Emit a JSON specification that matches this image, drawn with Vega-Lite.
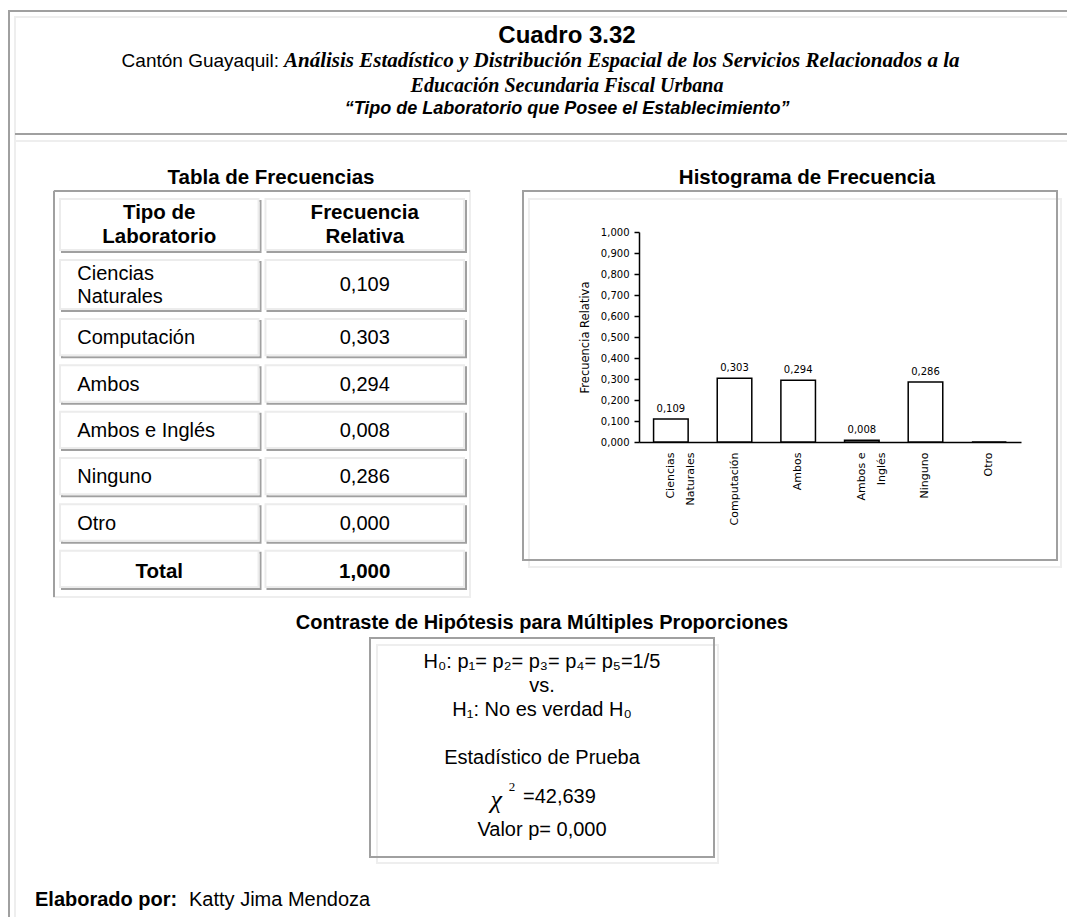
{
  "$schema": "https://vega.github.io/schema/vega-lite/v6.json",
  "width": 1067,
  "height": 917,
  "autosize": {"type": "none"},
  "padding": 0,
  "background": "white",
  "config": {
    "view": {"stroke": null},
    "text": {"font": "Liberation Sans", "color": "black"},
    "locale": {"number": {"decimal": ",", "thousands": ".", "grouping": [3], "currency": ["$", ""]}}
  },
  "datasets": {
    "frecuencias": [
      {"fila": 1, "tipo": "Ciencias Naturales", "frecuencia": 0.109},
      {"fila": 2, "tipo": "Computación", "frecuencia": 0.303},
      {"fila": 3, "tipo": "Ambos", "frecuencia": 0.294},
      {"fila": 4, "tipo": "Ambos e Inglés", "frecuencia": 0.008},
      {"fila": 5, "tipo": "Ninguno", "frecuencia": 0.286},
      {"fila": 6, "tipo": "Otro", "frecuencia": 0.0}
    ],
    "tabla": [
      {"fila": 0, "tipo": "Tipo de\nLaboratorio", "frec": "Frecuencia\nRelativa", "lineas": 2},
      {"fila": 1, "tipo": "Ciencias\nNaturales", "frec": "0,109", "lineas": 2},
      {"fila": 2, "tipo": "Computación", "frec": "0,303", "lineas": 1},
      {"fila": 3, "tipo": "Ambos", "frec": "0,294", "lineas": 1},
      {"fila": 4, "tipo": "Ambos e Inglés", "frec": "0,008", "lineas": 1},
      {"fila": 5, "tipo": "Ninguno", "frec": "0,286", "lineas": 1},
      {"fila": 6, "tipo": "Otro", "frec": "0,000", "lineas": 1},
      {"fila": 7, "tipo": "Total", "frec": "1,000", "lineas": 1}
    ]
  },
  "resolve": {"scale": {"x": "independent", "y": "independent"}},
  "layer": [
    {
      "data": {"values": [{"marco": "página"}]},
      "layer": [
        {
          "mark": {"type": "rect", "filled": false, "stroke": "#eeeeee", "strokeWidth": 2, "xOffset": 6, "yOffset": 6},
          "encoding": {
            "x": {"datum": 0, "type": "quantitative", "scale": {"domain": [0, 1], "range": [9, 15]}, "axis": null},
            "x2": {"datum": 1000},
            "y": {"datum": 0, "type": "quantitative", "scale": {"domain": [0, 1], "range": [11, 134]}, "axis": null},
            "y2": {"datum": 1000}
          }
        },
        {
          "mark": {"type": "rect", "filled": false, "stroke": "#a0a0a0", "strokeWidth": 2},
          "encoding": {
            "x": {"datum": 0, "type": "quantitative", "axis": null},
            "x2": {"datum": 1000},
            "y": {"datum": 0, "type": "quantitative", "axis": null},
            "y2": {"datum": 1000}
          }
        },
        {
          "mark": {"type": "rule", "stroke": "#a0a0a0", "strokeWidth": 2},
          "encoding": {
            "x": {"datum": 1, "type": "quantitative", "axis": null},
            "x2": {"datum": 1000},
            "y": {"datum": 1, "type": "quantitative", "axis": null}
          }
        },
        {
          "mark": {"type": "rule", "stroke": "#eeeeee", "strokeWidth": 2, "yOffset": 7},
          "encoding": {
            "x": {"datum": 1, "type": "quantitative", "axis": null},
            "x2": {"datum": 1000},
            "y": {"datum": 1, "type": "quantitative", "axis": null}
          }
        }
      ]
    },
    {
      "encoding": {
        "x": {"datum": 0.5, "type": "quantitative", "scale": {"domain": [0, 1], "range": [14, 1120]}, "axis": null},
        "y": {"field": "renglon", "type": "quantitative", "scale": {"domain": [1, 2, 3, 4], "range": [36, 61, 86, 109]}, "axis": null},
        "text": {"field": "texto", "type": "nominal"}
      },
      "layer": [
        {
          "data": {"values": [{"renglon": 1, "texto": "Cuadro 3.32"}]},
          "mark": {"type": "text", "fontSize": 24, "fontWeight": "bold", "baseline": "middle"}
        },
        {
          "data": {"values": [{"renglon": 2, "texto": "Cantón Guayaquil:"}]},
          "mark": {"type": "text", "fontSize": 19, "align": "right", "dx": -288, "baseline": "middle"}
        },
        {
          "data": {"values": [{"renglon": 2, "texto": "Análisis Estadístico y Distribución Espacial  de los Servicios Relacionados a la"}]},
          "mark": {"type": "text", "font": "Liberation Serif", "fontSize": 21, "fontWeight": "bold", "fontStyle": "italic", "align": "left", "dx": -283, "baseline": "middle"}
        },
        {
          "data": {"values": [{"renglon": 3, "texto": "Educación Secundaria Fiscal Urbana"}]},
          "mark": {"type": "text", "font": "Liberation Serif", "fontSize": 20, "fontWeight": "bold", "fontStyle": "italic", "baseline": "middle"}
        },
        {
          "data": {"values": [{"renglon": 4, "texto": "“Tipo de Laboratorio que Posee el Establecimiento”"}]},
          "mark": {"type": "text", "fontSize": 18, "fontWeight": "bold", "fontStyle": "italic", "baseline": "middle"}
        }
      ]
    },
    {
      "data": {"values": [{"marco": "Tabla de Frecuencias"}]},
      "layer": [
        {
          "mark": {"type": "rect", "filled": false, "stroke": "#eeeeee", "strokeWidth": 2},
          "encoding": {
            "x": {"datum": 0, "type": "quantitative", "scale": {"domain": [0, 1], "range": [54, 470]}, "axis": null},
            "x2": {"datum": 1},
            "y": {"datum": 0, "type": "quantitative", "scale": {"domain": [0, 1], "range": [191, 597]}, "axis": null},
            "y2": {"datum": 1}
          }
        },
        {
          "mark": {"type": "rule", "stroke": "#a0a0a0", "strokeWidth": 2},
          "encoding": {
            "x": {"datum": 0, "type": "quantitative", "axis": null},
            "x2": {"datum": 1},
            "y": {"datum": 0, "type": "quantitative", "axis": null}
          }
        },
        {
          "mark": {"type": "rule", "stroke": "#a0a0a0", "strokeWidth": 2},
          "encoding": {
            "x": {"datum": 0, "type": "quantitative", "axis": null},
            "y": {"datum": 0, "type": "quantitative", "axis": null},
            "y2": {"datum": 1}
          }
        },
        {
          "mark": {"type": "text", "fontSize": 20.5, "fontWeight": "bold", "baseline": "middle", "dx": 9, "dy": -13},
          "encoding": {
            "x": {"datum": 0.5, "type": "quantitative", "axis": null},
            "y": {"datum": 0, "type": "quantitative", "axis": null},
            "text": {"field": "marco"}
          }
        }
      ]
    },
    {
      "data": {"name": "tabla"},
      "transform": [
        {"fold": ["tipo", "frec"], "as": ["columna", "texto"]},
        {"stack": "lineas", "groupby": ["columna"], "sort": [{"field": "fila", "order": "ascending"}], "as": ["inicio", "fin"]}
      ],
      "encoding": {
        "x": {"field": "columna", "type": "nominal", "sort": ["tipo", "frec"], "axis": null, "scale": {"range": [60, 464], "paddingInner": 0.034, "paddingOuter": 0}},
        "y": {"field": "inicio", "type": "quantitative", "axis": null, "scale": {"domain": [0, 2, 4, 10], "range": [199, 260, 319, 597]}}
      },
      "layer": [
        {
          "mark": {"type": "rect", "filled": false, "stroke": "#a0a0a0", "strokeWidth": 2, "xOffset": 2, "yOffset": 2, "y2Offset": -8},
          "encoding": {"y2": {"field": "fin"}}
        },
        {
          "mark": {"type": "rect", "fill": "white", "stroke": "#ececec", "strokeWidth": 2, "y2Offset": -10},
          "encoding": {"y2": {"field": "fin"}}
        },
        {
          "transform": [{"filter": "datum.fila == 0"}],
          "mark": {"type": "text", "fontSize": 20.5, "fontWeight": "bold", "lineBreak": "\n", "lineHeight": 23.5, "baseline": "middle", "dy": 14},
          "encoding": {"text": {"field": "texto"}}
        },
        {
          "transform": [{"filter": "datum.fila == 7"}],
          "mark": {"type": "text", "fontSize": 20.5, "fontWeight": "bold", "baseline": "middle", "dy": 21},
          "encoding": {"text": {"field": "texto"}}
        },
        {
          "transform": [{"filter": "datum.fila == 1 && datum.columna == 'tipo'"}],
          "mark": {"type": "text", "fontSize": 20, "lineBreak": "\n", "lineHeight": 23.5, "align": "left", "baseline": "middle", "dx": -82, "dy": 13.5},
          "encoding": {"text": {"field": "texto"}}
        },
        {
          "transform": [{"filter": "datum.fila >= 2 && datum.fila <= 6 && datum.columna == 'tipo'"}],
          "mark": {"type": "text", "fontSize": 20, "align": "left", "baseline": "middle", "dx": -82, "dy": 19.3},
          "encoding": {"text": {"field": "texto"}}
        },
        {
          "transform": [{"filter": "datum.fila == 1 && datum.columna == 'frec'"}],
          "mark": {"type": "text", "fontSize": 20, "baseline": "middle", "dy": 25},
          "encoding": {"text": {"field": "texto"}}
        },
        {
          "transform": [{"filter": "datum.fila >= 2 && datum.fila <= 6 && datum.columna == 'frec'"}],
          "mark": {"type": "text", "fontSize": 20, "baseline": "middle", "dy": 19.3},
          "encoding": {"text": {"field": "texto"}}
        }
      ]
    },
    {
      "data": {"values": [{"marco": "Histograma de Frecuencia"}]},
      "layer": [
        {
          "mark": {"type": "rect", "filled": false, "stroke": "#eeeeee", "strokeWidth": 2, "xOffset": 6, "x2Offset": 4, "yOffset": 8, "y2Offset": 7},
          "encoding": {
            "x": {"datum": 0, "type": "quantitative", "scale": {"domain": [0, 1], "range": [523, 1057]}, "axis": null},
            "x2": {"datum": 1},
            "y": {"datum": 0, "type": "quantitative", "scale": {"domain": [0, 1], "range": [191, 560]}, "axis": null},
            "y2": {"datum": 1}
          }
        },
        {
          "mark": {"type": "rect", "filled": false, "stroke": "#a0a0a0", "strokeWidth": 2},
          "encoding": {
            "x": {"datum": 0, "type": "quantitative", "axis": null},
            "x2": {"datum": 1},
            "y": {"datum": 0, "type": "quantitative", "axis": null},
            "y2": {"datum": 1}
          }
        },
        {
          "mark": {"type": "text", "fontSize": 20.5, "fontWeight": "bold", "baseline": "middle", "dx": 17, "dy": -13},
          "encoding": {
            "x": {"datum": 0.5, "type": "quantitative", "axis": null},
            "y": {"datum": 0, "type": "quantitative", "axis": null},
            "text": {"field": "marco"}
          }
        }
      ]
    },
    {
      "data": {"name": "frecuencias"},
      "encoding": {
        "x": {
          "field": "tipo", "type": "nominal", "sort": null,
          "scale": {"range": [639, 1021], "paddingInner": 0.457, "paddingOuter": 0.229},
          "axis": {
            "orient": "bottom", "offset": -475, "title": null,
            "domainColor": "black", "domainWidth": 1.5, "ticks": false,
            "labelAngle": -90, "labelPadding": 10, "labelFont": "DejaVu Sans", "labelFontSize": 11,
            "labelColor": "black", "labelLineHeight": 20, "labelLimit": 0, "labelOverlap": false,
            "labelExpr": "datum.label == 'Ciencias Naturales' ? ['Ciencias', 'Naturales'] : (datum.label == 'Ambos e Inglés' ? ['Ambos e', 'Inglés'] : datum.label)"
          }
        },
        "y": {
          "field": "frecuencia", "type": "quantitative",
          "scale": {"domain": [0, 1], "range": [442, 232], "nice": false},
          "axis": {
            "orient": "left", "offset": -639, "grid": false,
            "values": [0, 0.1, 0.2, 0.3, 0.4, 0.5, 0.6, 0.7, 0.8, 0.9, 1],
            "format": ".3f", "tickSize": 5, "tickColor": "black", "tickWidth": 1.5,
            "domainColor": "black", "domainWidth": 1.5,
            "labelFont": "DejaVu Sans", "labelFontSize": 10, "labelColor": "black", "labelPadding": 5,
            "title": "Frecuencia Relativa", "titleFont": "DejaVu Sans", "titleFontSize": 11.5,
            "titleFontWeight": "normal", "titleColor": "black", "titlePadding": 10
          }
        }
      },
      "layer": [
        {"mark": {"type": "bar", "fill": "white", "stroke": "black", "strokeWidth": 1.5}},
        {
          "transform": [{"filter": "datum.frecuencia > 0"}],
          "mark": {"type": "text", "baseline": "bottom", "dy": -5, "font": "DejaVu Sans", "fontSize": 10},
          "encoding": {"text": {"field": "frecuencia", "type": "quantitative", "format": ".3f"}}
        }
      ]
    },
    {
      "data": {"values": [{"marco": "Contraste de Hipótesis para Múltiples Proporciones"}]},
      "layer": [
        {
          "mark": {"type": "rect", "filled": false, "stroke": "#eeeeee", "strokeWidth": 2, "xOffset": 7, "x2Offset": 4, "yOffset": 7, "y2Offset": 6},
          "encoding": {
            "x": {"datum": 0, "type": "quantitative", "scale": {"domain": [0, 1], "range": [370, 714]}, "axis": null},
            "x2": {"datum": 1},
            "y": {"datum": 0, "type": "quantitative", "scale": {"domain": [0, 1], "range": [638, 857]}, "axis": null},
            "y2": {"datum": 1}
          }
        },
        {
          "mark": {"type": "rect", "filled": false, "stroke": "#a0a0a0", "strokeWidth": 2},
          "encoding": {
            "x": {"datum": 0, "type": "quantitative", "axis": null},
            "x2": {"datum": 1},
            "y": {"datum": 0, "type": "quantitative", "axis": null},
            "y2": {"datum": 1}
          }
        },
        {
          "mark": {"type": "text", "fontSize": 20, "fontWeight": "bold", "baseline": "middle", "dy": -15},
          "encoding": {
            "x": {"datum": 0.5, "type": "quantitative", "axis": null},
            "y": {"datum": 0, "type": "quantitative", "axis": null},
            "text": {"field": "marco"}
          }
        }
      ]
    },
    {
      "encoding": {
        "x": {"datum": 0.5, "type": "quantitative", "scale": {"domain": [0, 1], "range": [370, 714]}, "axis": null},
        "y": {"field": "renglon", "type": "quantitative", "scale": {"domain": [1, 2, 3, 4, 5, 6], "range": [662, 686, 710, 758, 797, 830]}, "axis": null},
        "text": {"field": "texto", "type": "nominal"}
      },
      "layer": [
        {
          "data": {"values": [
            {"renglon": 1, "texto": "H₀: p₁= p₂= p₃= p₄= p₅=1/5"},
            {"renglon": 2, "texto": "vs."},
            {"renglon": 3, "texto": "H₁: No es verdad H₀"},
            {"renglon": 4, "texto": "Estadístico de Prueba"},
            {"renglon": 6, "texto": "Valor p= 0,000"}
          ]},
          "mark": {"type": "text", "fontSize": 20, "baseline": "middle"}
        },
        {
          "data": {"values": [{"renglon": 5, "texto": "χ"}]},
          "mark": {"type": "text", "font": "Liberation Serif", "fontStyle": "italic", "fontSize": 26, "align": "right", "baseline": "middle", "dx": -40, "dy": 3}
        },
        {
          "data": {"values": [{"renglon": 5, "texto": "2"}]},
          "mark": {"type": "text", "font": "Liberation Serif", "fontSize": 13, "baseline": "middle", "dx": -30, "dy": -10}
        },
        {
          "data": {"values": [{"renglon": 5, "texto": "=42,639"}]},
          "mark": {"type": "text", "fontSize": 20, "align": "left", "baseline": "middle", "dx": -19}
        }
      ]
    },
    {
      "data": {"values": [{"rotulo": "Elaborado por:", "autor": "Katty Jima Mendoza"}]},
      "layer": [
        {
          "mark": {"type": "text", "fontSize": 20, "fontWeight": "bold", "align": "left", "baseline": "middle"},
          "encoding": {
            "x": {"datum": 0, "type": "quantitative", "scale": {"domain": [0, 1], "range": [35, 189]}, "axis": null},
            "y": {"datum": 0.5, "type": "quantitative", "scale": {"domain": [0, 1], "range": [890, 910]}, "axis": null},
            "text": {"field": "rotulo"}
          }
        },
        {
          "mark": {"type": "text", "fontSize": 20, "align": "left", "baseline": "middle"},
          "encoding": {
            "x": {"datum": 1, "type": "quantitative", "axis": null},
            "y": {"datum": 0.5, "type": "quantitative", "axis": null},
            "text": {"field": "autor"}
          }
        }
      ]
    }
  ]
}
